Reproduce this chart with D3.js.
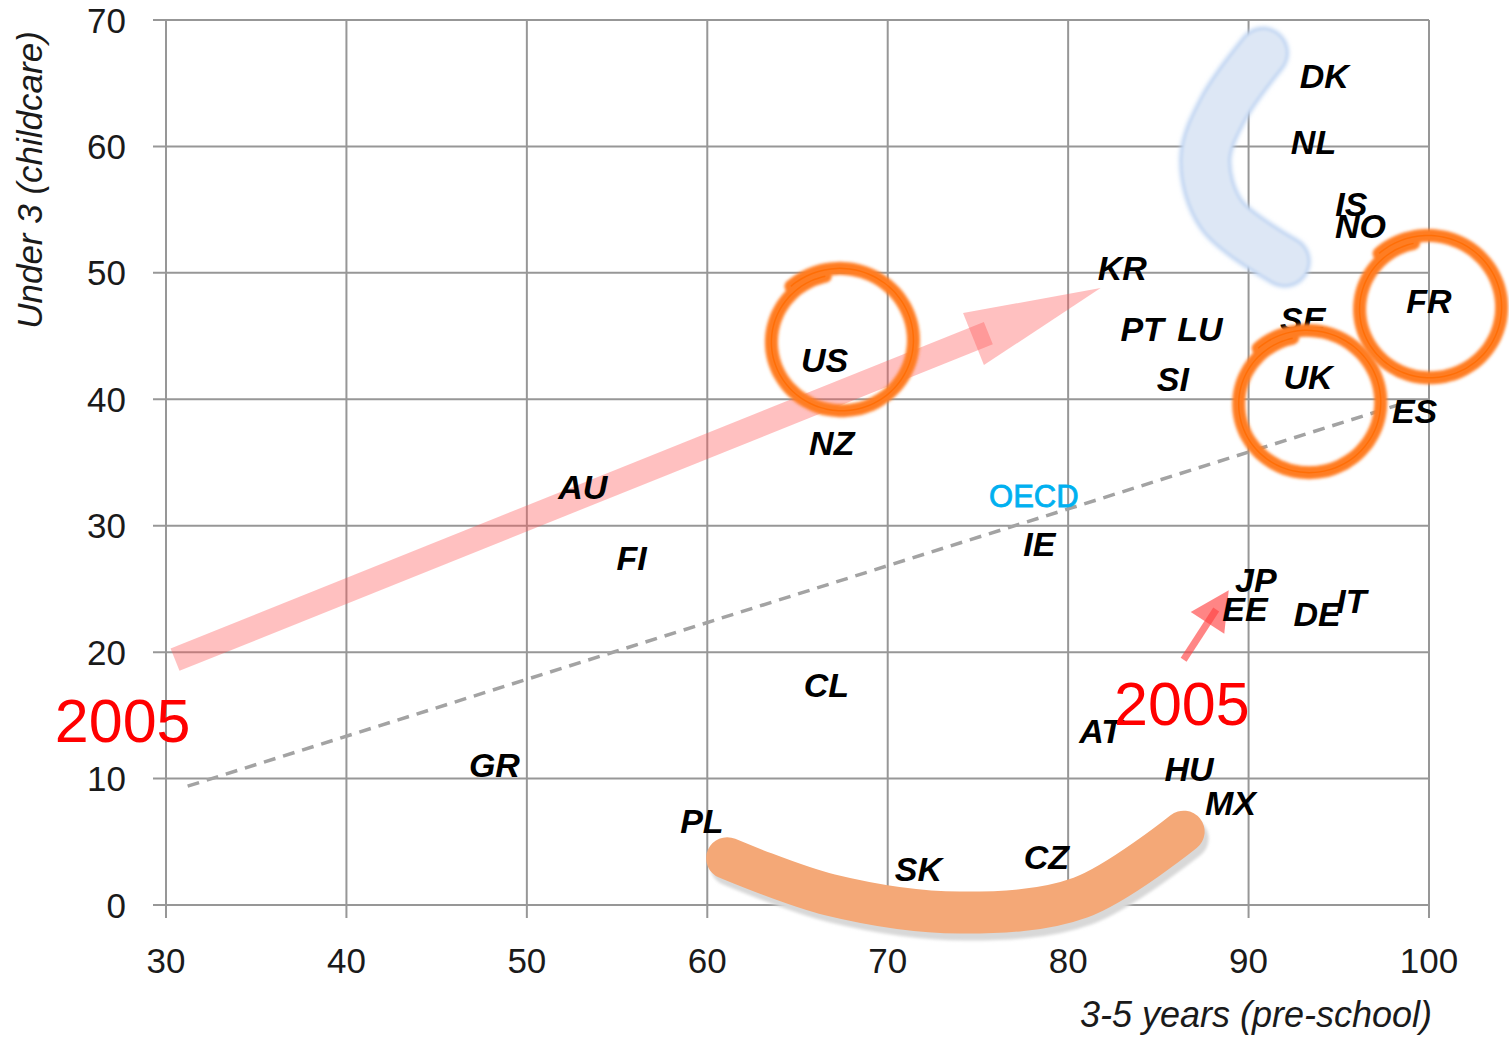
<!DOCTYPE html>
<html>
<head>
<meta charset="utf-8">
<script src="https://cdn.jsdelivr.net/npm/d3@7"></script>
<style>
  body { margin: 0; background: #fff; }
  svg { display: block; font-family: 'Liberation Sans', Arial, sans-serif; }
</style>
</head>
<body>
<div id="chart"></div>
<script>
// Country codes with enrolment rates: 3-5 years (pre-school) vs under 3 (childcare)
const countries = ['DK', 'NL', 'IS', 'NO', 'KR', 'FR', 'SE', 'PT', 'LU', 'US', 'SI', 'UK', 'ES', 'NZ', 'AU',
  'IE', 'FI', 'JP', 'EE', 'IT', 'DE', 'CL', 'AT', 'GR', 'HU', 'MX', 'PL', 'CZ', 'SK'];
const preschool = [94.2, 93.6, 95.7, 96.2, 83.0, 100.0, 93.0, 84.1, 87.3, 66.5, 85.8, 93.3, 99.2, 66.9, 53.1,
  78.4, 55.8, 90.4, 89.8, 95.7, 93.8, 66.6, 81.8, 48.2, 86.7, 89.0, 59.7, 78.8, 71.7];
const childcare = [65.6, 60.4, 55.5, 53.7, 50.4, 47.8, 46.4, 45.6, 45.6, 43.1, 41.6, 41.8, 39.1, 36.6, 33.1,
  28.6, 27.5, 25.7, 23.4, 24.1, 23.0, 17.4, 13.8, 11.1, 10.8, 8.1, 6.7, 3.8, 2.9];

const oecdLabel = ['OECD'];
const oecdPreschool = [78.1];
const oecdChildcare = [32.4];

// dashed trend line end points
const trendX = [31.2, 98.4];
const trendY = [9.4, 39.6];

const xTicks = [30, 40, 50, 60, 70, 80, 90, 100];
const yTicks = [0, 10, 20, 30, 40, 50, 60, 70];

// annotation anchors (data units)
const bigArrowFrom = [30.5, 19.4], bigArrowTo = [81.8, 48.8];
const smallArrowFrom = [86.4, 19.4], smallArrowTo = [88.9, 24.9];
const yearLabels = ['2005', '2005'];
const yearX = [27.6, 86.3];
const yearY = [12.9, 14.2];
const circledX = [67.4, 100.0, 93.3];
const circledY = [44.6, 47.2, 39.7];
const crescentX = [90.8, 88.6, 87.6, 88.5, 92.0];
const crescentY = [67.4, 63.0, 59.0, 54.6, 50.9];
const smileX = [61.1, 66.8, 74.0, 80.7, 86.4];
const smileY = [3.7, 0.8, -0.6, 0.6, 5.8];

const width = 1509, height = 1037;
const svg = d3.select('#chart').append('svg')
  .attr('width', width).attr('height', height);

const x = d3.scaleLinear().domain([30, 100]).range([166, 1429]);
const y = d3.scaleLinear().domain([0, 70]).range([905, 20]);

// blur filters over the whole canvas so wide strokes are not clipped
const defs = svg.append('defs');
[['soft', 1.4], ['softer', 2.2]].forEach(([id, sd]) => {
  defs.append('filter').attr('id', id)
    .attr('filterUnits', 'userSpaceOnUse')
    .attr('x', 0).attr('y', 0).attr('width', width).attr('height', height)
    .append('feGaussianBlur').attr('stdDeviation', sd);
});

const gridColor = '#979797';

// gridlines
svg.append('g').selectAll('line.v').data(xTicks).join('line')
  .attr('x1', d => x(d)).attr('x2', d => x(d))
  .attr('y1', y(70)).attr('y2', y(0) + 13)
  .attr('stroke', gridColor).attr('stroke-width', 2);
svg.append('g').selectAll('line.h').data(yTicks).join('line')
  .attr('x1', x(30) - 13).attr('x2', x(100))
  .attr('y1', d => y(d)).attr('y2', d => y(d))
  .attr('stroke', gridColor).attr('stroke-width', 2);

// tick labels
svg.append('g').selectAll('text').data(xTicks).join('text')
  .attr('x', d => x(d)).attr('y', y(0) + 68)
  .attr('text-anchor', 'middle')
  .attr('font-size', 35).attr('fill', '#1a1a1a')
  .text(d => d);
svg.append('g').selectAll('text').data(yTicks).join('text')
  .attr('x', x(30) - 40).attr('y', d => y(d))
  .attr('dy', '0.36em')
  .attr('text-anchor', 'end')
  .attr('font-size', 35).attr('fill', '#1a1a1a')
  .text(d => d);

// axis titles
svg.append('text')
  .attr('transform', `translate(42,180) rotate(-90)`)
  .attr('text-anchor', 'middle')
  .attr('font-size', 35).attr('font-style', 'italic').attr('fill', '#1a1a1a')
  .text('Under 3 (childcare)');
svg.append('text')
  .attr('x', 1432).attr('y', 1027)
  .attr('text-anchor', 'end')
  .attr('font-size', 36).attr('font-style', 'italic').attr('fill', '#1a1a1a')
  .text('3-5 years (pre-school)');

// blue crescent annotation
const crescentPts = crescentX.map((v, i) => [x(v), y(crescentY[i])]);
const curve = d3.line().curve(d3.curveCatmullRom);
svg.append('path').attr('d', curve(crescentPts))
  .attr('fill', 'none').attr('stroke', '#bcd2f1').attr('stroke-width', 52)
  .attr('stroke-linecap', 'round').attr('filter', 'url(#softer)');
svg.append('path').attr('d', curve(crescentPts))
  .attr('fill', 'none').attr('stroke', '#dde7f5').attr('stroke-width', 46)
  .attr('stroke-linecap', 'round').attr('filter', 'url(#soft)');

// dashed trend line
svg.append('line')
  .attr('x1', x(trendX[0])).attr('y1', y(trendY[0]))
  .attr('x2', x(trendX[1])).attr('y2', y(trendY[1]))
  .attr('stroke', '#a3a3a3').attr('stroke-width', 3.5)
  .attr('stroke-dasharray', '12 8');

// arrows
function arrow(from, to, bodyW, headW, headL, color, opacity) {
  const x0 = x(from[0]), y0 = y(from[1]), x1 = x(to[0]), y1 = y(to[1]);
  const len = Math.hypot(x1 - x0, y1 - y0);
  const ux = (x1 - x0) / len, uy = (y1 - y0) / len;
  const nx = -uy, ny = ux;
  const bx = x1 - ux * headL, by = y1 - uy * headL;
  const ex = bx + ux * 16, ey = by + uy * 16;
  const g = svg.append('g');
  g.append('line')
    .attr('x1', x0).attr('y1', y0).attr('x2', ex).attr('y2', ey)
    .attr('stroke', color).attr('stroke-width', bodyW).attr('stroke-opacity', opacity);
  g.append('path')
    .attr('d', `M${x1},${y1}L${bx + nx * headW / 2},${by + ny * headW / 2}L${bx - nx * headW / 2},${by - ny * headW / 2}Z`)
    .attr('fill', color).attr('fill-opacity', opacity);
}
arrow(bigArrowFrom, bigArrowTo, 24, 56, 137, '#ff5a5a', 0.38);
arrow(smallArrowFrom, smallArrowTo, 7, 40, 39, '#ff4444', 0.65);

// orange smile at the bottom
const smilePts = smileX.map((v, i) => [x(v), y(smileY[i])]);
const smooth = d3.line().curve(d3.curveCatmullRom);
svg.append('path').attr('d', smooth(smilePts.map(p => [p[0] + 4, p[1] + 7])))
  .attr('fill', 'none').attr('stroke', '#d8d8d8').attr('stroke-width', 42)
  .attr('stroke-linecap', 'round').attr('filter', 'url(#soft)');
svg.append('path').attr('d', smooth(smilePts))
  .attr('fill', 'none').attr('stroke', '#f4a877').attr('stroke-width', 42)
  .attr('stroke-linecap', 'round');

// country labels
const labelData = countries.map((c, i) => ({ c, px: preschool[i], cc: childcare[i] }));
svg.append('g').selectAll('text').data(labelData).join('text')
  .attr('x', d => x(d.px)).attr('y', d => y(d.cc))
  .attr('dy', '0.36em')
  .attr('text-anchor', 'middle')
  .attr('font-size', 34).attr('font-weight', 'bold').attr('font-style', 'italic')
  .attr('fill', '#000')
  .text(d => d.c);

// OECD average
svg.append('text')
  .attr('x', x(oecdPreschool[0])).attr('y', y(oecdChildcare[0]))
  .attr('dy', '0.36em').attr('text-anchor', 'middle')
  .attr('font-size', 31).attr('fill', '#00b0f0')
  .attr('stroke', '#00b0f0').attr('stroke-width', 0.8)
  .text(oecdLabel[0]);

// hand-drawn orange circles
function handCircle(cx, cy, r) {
  const pts = [];
  const t0 = -2.3, span = Math.PI * 2 + 0.5;
  for (let k = 0; k <= 80; k++) {
    const p = k / 80, t = t0 + span * p;
    const rr = r + 7 * (1 - p);
    pts.push([cx + rr * Math.cos(t), cy + rr * 0.98 * Math.sin(t)]);
  }
  return d3.line().curve(d3.curveCatmullRom)(pts);
}
circledX.forEach((v, i) => {
  const d = handCircle(x(v), y(circledY[i]), 68);
  svg.append('path').attr('d', d).attr('fill', 'none')
    .attr('stroke', '#ff7d24').attr('stroke-width', 13).attr('stroke-linecap', 'round')
    .attr('filter', 'url(#soft)');
  svg.append('path').attr('d', d).attr('fill', 'none')
    .attr('stroke', '#ff6a00').attr('stroke-width', 1.5).attr('stroke-opacity', 0.8);
});

// red "2005" notes
svg.append('g').selectAll('text').data(yearLabels).join('text')
  .attr('x', (d, i) => x(yearX[i])).attr('y', (d, i) => y(yearY[i]))
  .attr('text-anchor', 'middle')
  .attr('font-size', 61).attr('fill', '#ff0000')
  .text(d => d);
</script>
</body>
</html>
